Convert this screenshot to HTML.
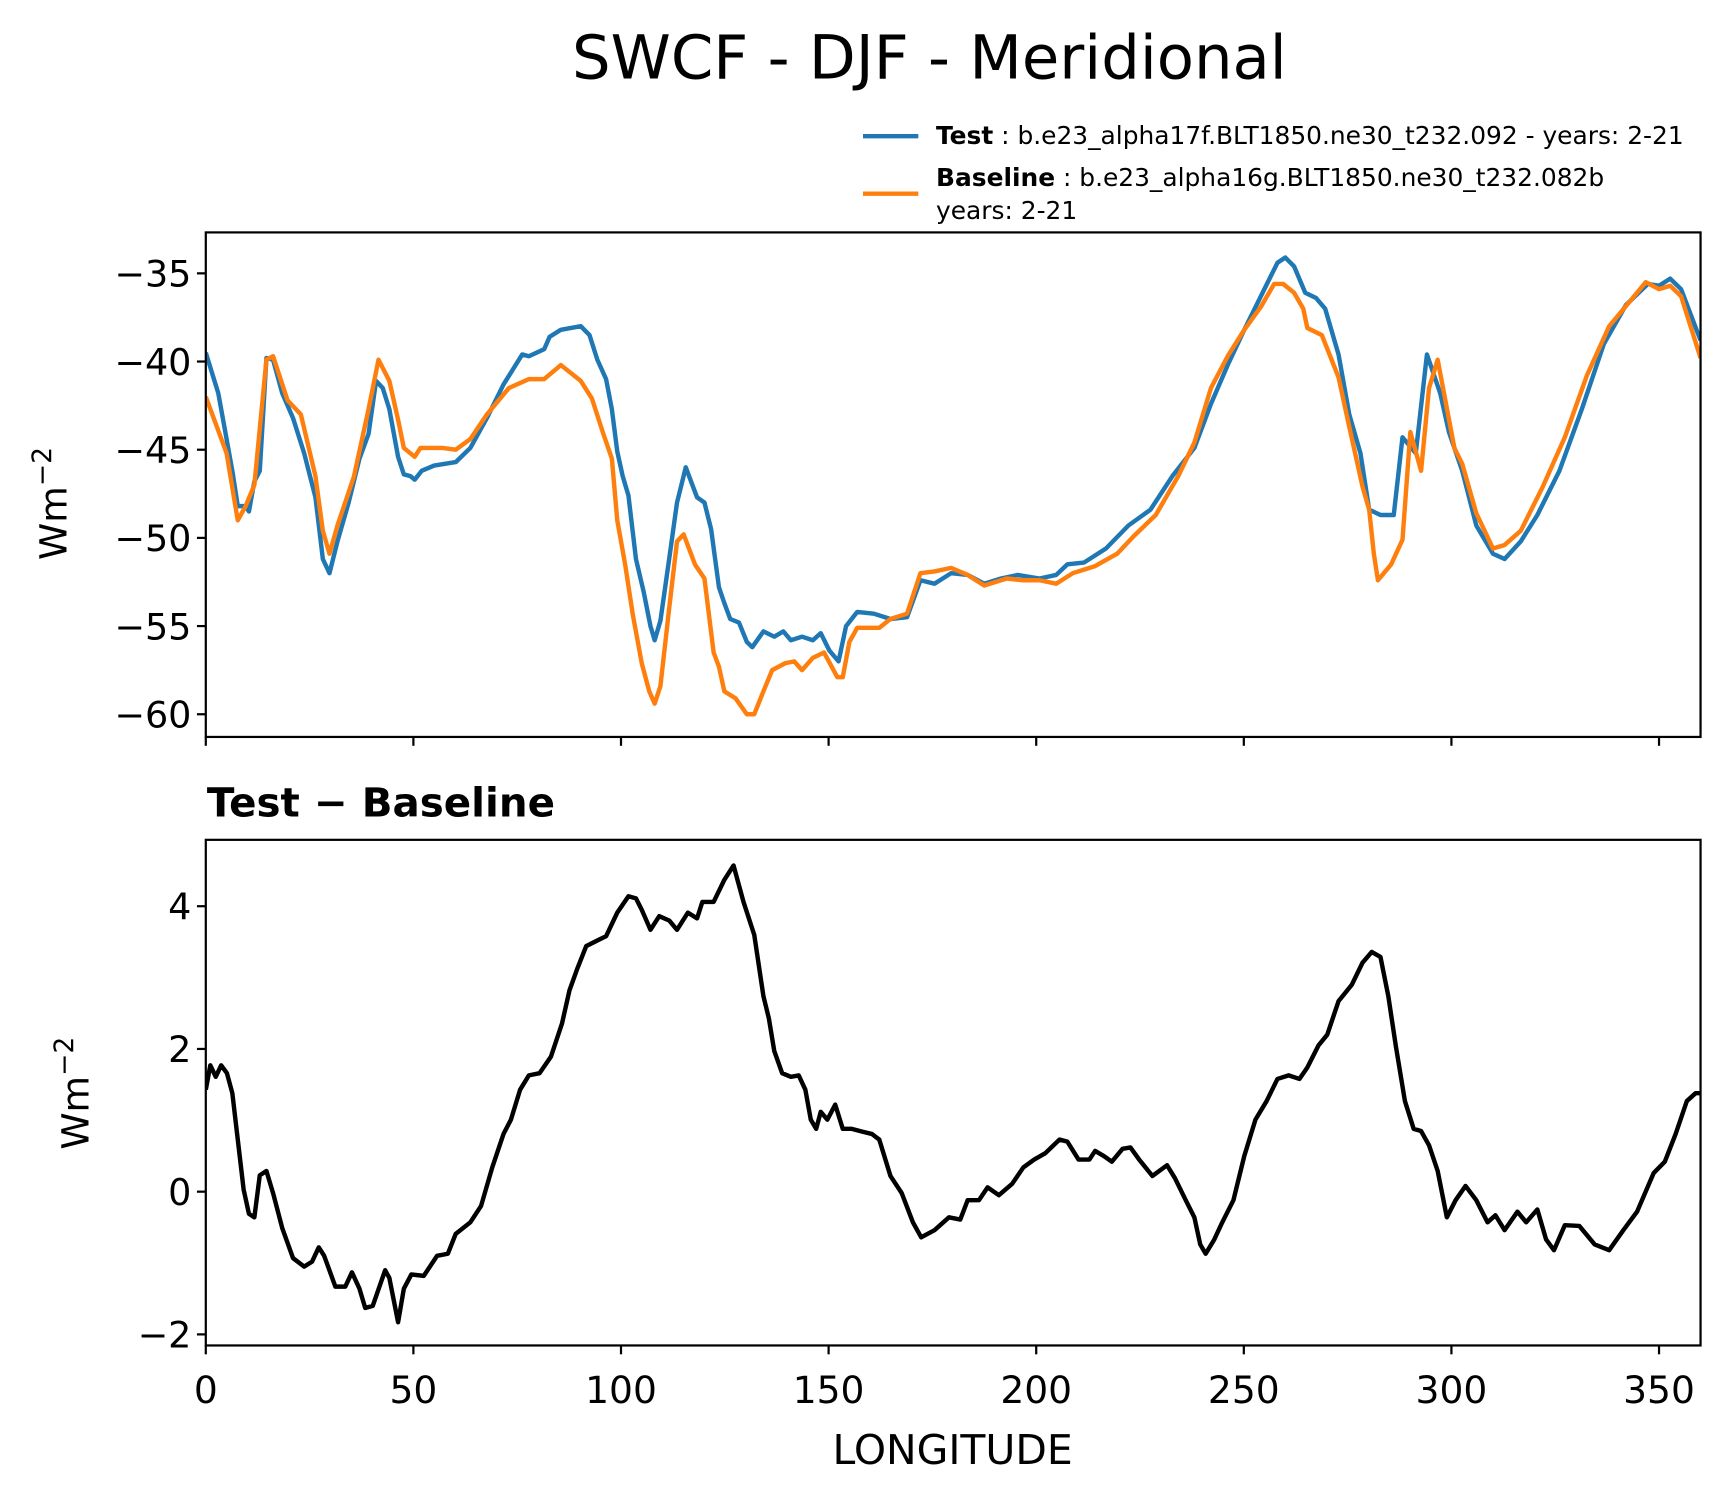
<!DOCTYPE html>
<html><head><meta charset="utf-8"><style>
html,body{margin:0;padding:0;background:#fff;}
svg{display:block;font-family:"DejaVu Sans","Liberation Sans",sans-serif;}
</style></head><body>
<svg id="chart" width="1726" height="1496" viewBox="0 0 1560 1352" xmlns="http://www.w3.org/2000/svg">
<rect width="1560" height="1352" fill="#fff"/>
<text x="840" y="71" font-size="55" text-anchor="middle">SWCF - DJF - Meridional</text>
<g>
<line x1="780" y1="123" x2="830" y2="123" stroke="#1f77b4" stroke-width="4"/>
<text x="846" y="130" font-size="22.5"><tspan font-weight="bold">Test</tspan> : b.e23_alpha17f.BLT1850.ne30_t232.092 - years: 2-21</text>
<line x1="780" y1="175" x2="830" y2="175" stroke="#ff7f0e" stroke-width="4"/>
<text x="846" y="168" font-size="22.5"><tspan font-weight="bold">Baseline</tspan> : b.e23_alpha16g.BLT1850.ne30_t232.082b</text>
<text x="846" y="198" font-size="22.5">years: 2-21</text>
</g>
<g id="topPanel"></g>
<text x="187" y="738" font-size="36.5" font-weight="bold">Test − Baseline</text>
<g id="botPanel"></g>
<text transform="translate(60,455) rotate(-90)" font-size="34" text-anchor="middle">Wm<tspan dy="-14" font-size="24">−2</tspan></text>
<text transform="translate(80,988) rotate(-90)" font-size="34" text-anchor="middle">Wm<tspan dy="-14" font-size="24">−2</tspan></text>
<text x="861" y="1323" font-size="37" text-anchor="middle">LONGITUDE</text>
</svg>
<script>
const testLon=[0,3,6.4,7.7,9.6,10.4,11.7,13,14.6,16.2,18.4,21,23.7,26.4,28.2,29.8,31.7,34.4,37,39.2,41,42.6,44.2,46.3,47.7,49.3,50.3,52,55,60.2,63.7,67.7,71.7,76.2,77.8,81.5,82.8,85.5,90.3,92.4,94.3,96.4,97.8,99.1,100.4,101.8,103.6,105.5,107.1,108.1,109.5,111.6,113.5,115.6,118.3,120.1,121.7,123.6,124.9,126.3,128.4,130.3,131.6,134.3,136.9,139.1,140.9,143.6,146.2,148.1,150.2,152.4,154.2,156.9,160.9,164.9,168.9,172.1,175.5,179.5,183.5,187.5,191.5,195.5,200.8,204.8,207.5,211.5,216.8,222.2,227.5,232.8,238.1,242.1,246.1,250.1,254.1,258.1,260,262.1,264.8,267.4,269.6,272.8,275.4,278.1,280.2,282.9,286.1,288.2,291.4,294.1,297.3,299.4,302.6,306,310,312.8,316.7,320.7,326,331.4,336.7,342,347.3,350,352.7,355.3,360];
const testVal=[-39.5,-41.8,-46.2,-48.2,-48.2,-48.5,-46.8,-46.2,-39.8,-39.9,-41.8,-43.2,-45.2,-47.7,-51.2,-52,-50.2,-48,-45.5,-44.1,-41.1,-41.5,-42.7,-45.4,-46.4,-46.5,-46.7,-46.2,-45.9,-45.7,-44.9,-43.2,-41.3,-39.6,-39.7,-39.3,-38.6,-38.2,-38,-38.5,-39.9,-41,-42.7,-45.1,-46.5,-47.6,-51.2,-53.1,-55,-55.8,-54.7,-51.2,-48,-46,-47.7,-48,-49.5,-52.8,-53.7,-54.6,-54.8,-55.9,-56.2,-55.3,-55.6,-55.3,-55.8,-55.6,-55.8,-55.4,-56.4,-57,-55,-54.2,-54.3,-54.6,-54.5,-52.4,-52.6,-52,-52.1,-52.6,-52.3,-52.1,-52.3,-52.1,-51.5,-51.4,-50.6,-49.3,-48.4,-46.5,-44.9,-42.4,-40.2,-38.2,-36.3,-34.4,-34.1,-34.6,-36.1,-36.4,-37,-39.6,-43,-45.2,-48.4,-48.7,-48.7,-44.3,-45.2,-39.6,-41.8,-44,-46.2,-49.3,-50.9,-51.2,-50.2,-48.7,-46.2,-42.7,-39,-36.8,-35.6,-35.7,-35.3,-35.9,-38.8];
const baseLon=[0,5,7.7,9.6,11.7,14.6,16.2,19.7,22.9,26.4,28.2,29.8,31.7,35.7,39.2,41.6,44.2,46.3,47.7,50.3,51.7,57,60.2,63.7,67.7,73,77.8,81.5,85.5,90.3,93,95.6,97.8,99.1,101,102.8,105,106.8,108.1,109.5,111.6,113.5,115.1,117.8,120.1,122.3,123.6,124.9,127.6,130.3,132.1,134.3,136.4,139.6,141.7,143.6,146.2,148.9,152.1,153.4,155,156.9,162.2,164.9,168.9,172.1,175.5,179.5,183.5,187.5,192.9,196.9,200.8,204.8,208.8,214.2,219.5,223.5,228.8,234.2,238.1,242.1,246.1,250.1,254.1,257.3,259.5,262.1,264.3,265.3,268.8,272.8,275.4,278.6,280.2,281.3,282.3,285.5,288.2,290.1,292.7,294.6,296.7,300.7,302.6,306,310,312.8,316.7,322,327.3,332.6,338,343.3,346.8,350,352.7,355.3,360];
const baseVal=[-42,-45.2,-49,-48.2,-47,-39.9,-39.7,-42.2,-43,-46.5,-49.6,-50.9,-49.3,-46.5,-42.7,-39.9,-41.1,-43.3,-44.9,-45.4,-44.9,-44.9,-45,-44.4,-43,-41.5,-41,-41,-40.2,-41.1,-42.1,-44,-45.5,-49,-51.5,-54.3,-57.1,-58.7,-59.4,-58.4,-54,-50.2,-49.8,-51.5,-52.3,-56.5,-57.3,-58.7,-59.1,-60,-60,-58.7,-57.5,-57.1,-57,-57.5,-56.8,-56.5,-57.9,-57.9,-55.9,-55.1,-55.1,-54.6,-54.3,-52,-51.9,-51.7,-52.1,-52.7,-52.3,-52.4,-52.4,-52.6,-52,-51.6,-50.9,-49.9,-48.7,-46.5,-44.6,-41.5,-39.7,-38.2,-36.9,-35.6,-35.6,-36.1,-37,-38.1,-38.5,-40.9,-43.7,-47.1,-48.4,-50.9,-52.4,-51.5,-50.1,-44,-46.2,-41.5,-39.9,-44.9,-45.8,-48.6,-50.6,-50.4,-49.6,-47.1,-44.3,-40.8,-38,-36.5,-35.5,-35.9,-35.7,-36.3,-39.8];
const diffLon=[0,1.1,2.4,3.7,5.1,6.4,7.7,9.1,10.4,11.7,13,14.6,16.2,18.4,21,23.7,25.6,27.2,28.5,31.2,33.6,35.2,37,38.4,40.2,43.2,44.2,46.3,47.7,49.5,52.5,55.7,58.3,60.2,63.7,66.3,69,71.7,73.5,75.7,77.8,80.4,83.1,85.8,87.6,89.5,91.6,94.3,96.4,99.1,101.8,103.6,105,107.1,109.2,111.6,113.5,116.1,118.3,119.6,122.3,124.9,127.1,129.5,132.1,134.3,135.6,136.9,138.8,140.9,142.8,144.4,145.7,147,148.1,149.7,151.6,153.4,155.6,158.2,160.4,162.2,164.9,167.6,170.3,172.3,175.5,179,181.7,183.5,186.2,188.3,191,194.2,196.9,199.5,202.2,205.6,207.5,210.2,212.8,214.2,216.3,218.2,220.8,222.7,224.8,228,231.5,233.4,236,238.1,239.5,240.8,242.9,244.8,247.5,250.1,252.8,255.5,258.1,260.8,263.4,265.3,268,270.1,272.8,276,278.6,280.8,282.9,284.8,286.6,288.8,290.9,292.7,294.6,296.7,298.9,301,303.4,306,308.7,310.6,312.8,315.9,318,320.7,322.8,324.7,327.3,330.8,334.5,338,341.4,344.7,348.7,351.4,354,356.7,358.8,360];
const diffVal=[1.43,1.77,1.61,1.77,1.66,1.38,0.73,0.03,-0.31,-0.36,0.23,0.29,-0.02,-0.51,-0.93,-1.05,-0.98,-0.78,-0.9,-1.33,-1.33,-1.13,-1.36,-1.63,-1.6,-1.1,-1.21,-1.83,-1.36,-1.16,-1.18,-0.9,-0.87,-0.59,-0.43,-0.2,0.34,0.81,1.01,1.43,1.63,1.66,1.89,2.36,2.82,3.13,3.44,3.52,3.58,3.91,4.14,4.11,3.95,3.67,3.86,3.8,3.67,3.91,3.83,4.06,4.06,4.37,4.57,4.06,3.6,2.74,2.43,1.97,1.66,1.61,1.63,1.43,1.01,0.88,1.12,1.01,1.22,0.88,0.88,0.84,0.81,0.73,0.22,-0.02,-0.43,-0.64,-0.54,-0.36,-0.39,-0.12,-0.12,0.06,-0.05,0.11,0.34,0.45,0.54,0.73,0.7,0.45,0.45,0.57,0.5,0.42,0.6,0.62,0.45,0.22,0.37,0.19,-0.12,-0.36,-0.74,-0.87,-0.67,-0.43,-0.12,0.5,1.01,1.27,1.58,1.63,1.58,1.74,2.05,2.2,2.67,2.9,3.21,3.36,3.29,2.74,2.05,1.27,0.88,0.85,0.65,0.29,-0.36,-0.12,0.08,-0.12,-0.43,-0.33,-0.54,-0.28,-0.43,-0.25,-0.67,-0.82,-0.47,-0.48,-0.74,-0.82,-0.54,-0.28,0.26,0.42,0.81,1.27,1.38,1.38];
const xTicks=[0,50,100,150,200,250,300,350];
const topYTicks=[-35,-40,-45,-50,-55,-60];
const botYTicks=[4,2,0,-2];

const NS='http://www.w3.org/2000/svg';
const X0=186,X1=1537;
const xs=v=>X0+(v-0)/360*(X1-X0);
const topY=v=>247+(-35-v)*15.94;
const botY=v=>1077-v*64.5;
function mk(tag,attrs,parent){const e=document.createElementNS(NS,tag);for(const k in attrs)e.setAttribute(k,attrs[k]);parent.appendChild(e);return e;}
function panel(g,y0,y1,yfn,yticks,showX,prefix){
  const fr=mk('rect',{x:X0,y:y0,width:X1-X0,height:y1-y0,fill:'none',stroke:'#000','stroke-width':2},g);
  
  
  xTicks.forEach(t=>{
    const l=mk('line',{x1:xs(t),x2:xs(t),y1:y1,y2:y1+8,stroke:'#000','stroke-width':2},g);
    
    
    if(showX){const tx=mk('text',{x:xs(t),y:y1+52,'font-size':34,'text-anchor':'middle'},g);tx.textContent=t;
      
      }
  });
  yticks.forEach(t=>{
    const l=mk('line',{x1:X0-8,x2:X0,y1:yfn(t),y2:yfn(t),stroke:'#000','stroke-width':2},g);
    
    
    const tx=mk('text',{x:X0-13,y:yfn(t)+12,'font-size':33,'text-anchor':'end'},g);tx.textContent=String(t).replace('-','−');
    
    
  });
}
function series(g,lons,vals,yfn,color,name){
  const d=lons.map((l,i)=>(i?'L':'M')+xs(l).toFixed(1)+','+yfn(vals[i]).toFixed(1)).join('');
  const p=mk('path',{d:d,fill:'none',stroke:color,'stroke-width':4,'stroke-linejoin':'round'},g);
  
  
}
const topG=document.getElementById('topPanel'),botG=document.getElementById('botPanel');
const cp=mk('clipPath',{id:'c1'},topG);mk('rect',{x:X0,y:210,width:X1-X0,height:456},cp);
const cp2=mk('clipPath',{id:'c2'},botG);mk('rect',{x:X0,y:759,width:X1-X0,height:457},cp2);
const g1=mk('g',{'clip-path':'url(#c1)'},topG),g2=mk('g',{'clip-path':'url(#c2)'},botG);
series(g1,testLon,testVal,topY,'#1f77b4','test-line');
series(g1,baseLon,baseVal,topY,'#ff7f0e','baseline-line');
series(g2,diffLon,diffVal,botY,'#000','difference-line');
panel(topG,210,666,topY,topYTicks,false,'top');
panel(botG,759,1216,botY,botYTicks,true,'bottom');
</script>
</body></html>
